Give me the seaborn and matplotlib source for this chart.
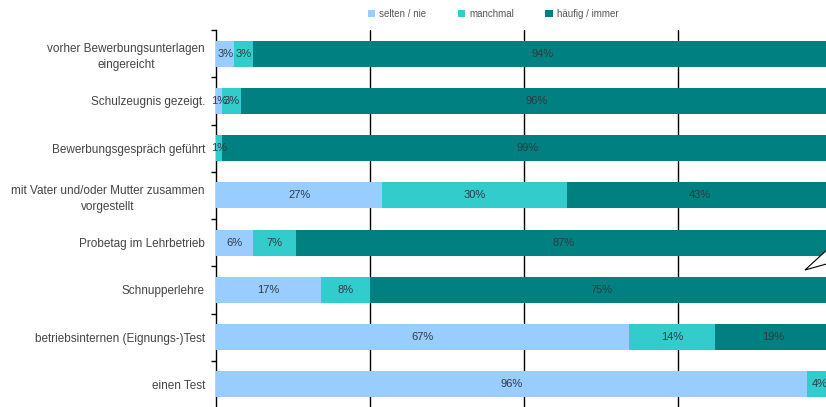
import matplotlib
matplotlib.use("Agg")
import matplotlib.pyplot as plt
from matplotlib.patches import Polygon, Patch
import numpy as np
import pandas as pd
import seaborn as sns

categories = [
    "vorher Bewerbungsunterlagen\neingereicht",
    "Schulzeugnis gezeigt.",
    "Bewerbungsgespräch geführt",
    "mit Vater und/oder Mutter zusammen\nvorgestellt",
    "Probetag im Lehrbetrieb",
    "Schnupperlehre",
    "betriebsinternen (Eignungs-)Test",
    "einen Test",
]
series_names = ["selten / nie", "manchmal", "häufig / immer"]
selten = [3, 1, 0, 27, 6, 17, 67, 96]
manchmal = [3, 3, 1, 30, 7, 8, 14, 4]
haeufig = [94, 96, 99, 43, 87, 75, 19, 0]
colors = ["#99CCFF", "#33CCCC", "#008080"]

sns.set_theme(style="white")
plt.rcParams["font.family"] = ["Liberation Sans", "DejaVu Sans"]

df = pd.DataFrame({"Kategorie": categories, "selten": selten,
                   "manchmal": manchmal, "haeufig": haeufig})
df["c1"] = df["selten"]
df["c2"] = df["selten"] + df["manchmal"]
df["c3"] = df["c2"] + df["haeufig"]

fig = plt.figure(figsize=(8.26, 4.07), dpi=100)
ax = fig.add_axes([216 / 826, -1 / 407, 616 / 826, 378 / 407])

# stacked bars: draw cumulative totals from the outermost layer inward
for col, color in zip(["c3", "c2", "c1"], colors[::-1]):
    sns.barplot(data=df, x=col, y="Kategorie", orient="h", color=color,
                width=0.55, saturation=1, linewidth=0, ax=ax, zorder=3)

ax.set_xlim(0, 100)
ax.set_ylim(len(categories) - 0.5, -0.5)
ax.set_xlabel("")
ax.set_ylabel("")

# vertical reference lines
for xv in (25, 50, 75):
    ax.axvline(xv, color="black", lw=1.0, zorder=1)

# value labels centred in each segment
vals = np.array([selten, manchmal, haeufig])
starts = np.array([np.zeros(len(selten)), df["c1"].values, df["c2"].values])
for i in range(len(categories)):
    for k in range(3):
        v = vals[k, i]
        if v <= 0:
            continue
        xc = starts[k, i] + v / 2
        ax.text(xc, i, f"{v}%", ha="center", va="center", fontsize=8,
                color="#2f3a40", zorder=5)

# spines and ticks
for s in ("top", "right", "bottom"):
    ax.spines[s].set_visible(False)
ax.spines["left"].set_color("black")
ax.spines["left"].set_linewidth(1.0)
ax.set_xticks([])
ax.set_yticks(np.arange(-0.5, len(categories), 1.0), minor=True)
ax.tick_params(axis="y", which="minor", length=3.5, width=1.0, color="black",
               direction="out", left=True)
ax.tick_params(axis="y", which="major", length=0, pad=8, labelsize=8.5,
               labelcolor="#444444")
for lab in ax.get_yticklabels():
    lab.set_multialignment("center")
    lab.set_linespacing(1.42)

# legend across the top
handles = [Patch(facecolor=c, edgecolor="none") for c in colors]
fig.legend(handles, series_names, loc="center", bbox_to_anchor=(493 / 826, 1 - 14 / 407),
           ncol=3, frameon=False, fontsize=7, handlelength=0.8, handleheight=0.8,
           handletextpad=0.4, columnspacing=3.2, labelcolor="#555555")

# small callout pointer at the right edge
pointer = Polygon([[805, 407 - 270], [830, 407 - 247], [830, 407 - 263]],
                  closed=True, facecolor="white", edgecolor="black", lw=0.8,
                  transform=None, zorder=10)
fig.patches.append(pointer)

fig.savefig("out.png", dpi=100)
